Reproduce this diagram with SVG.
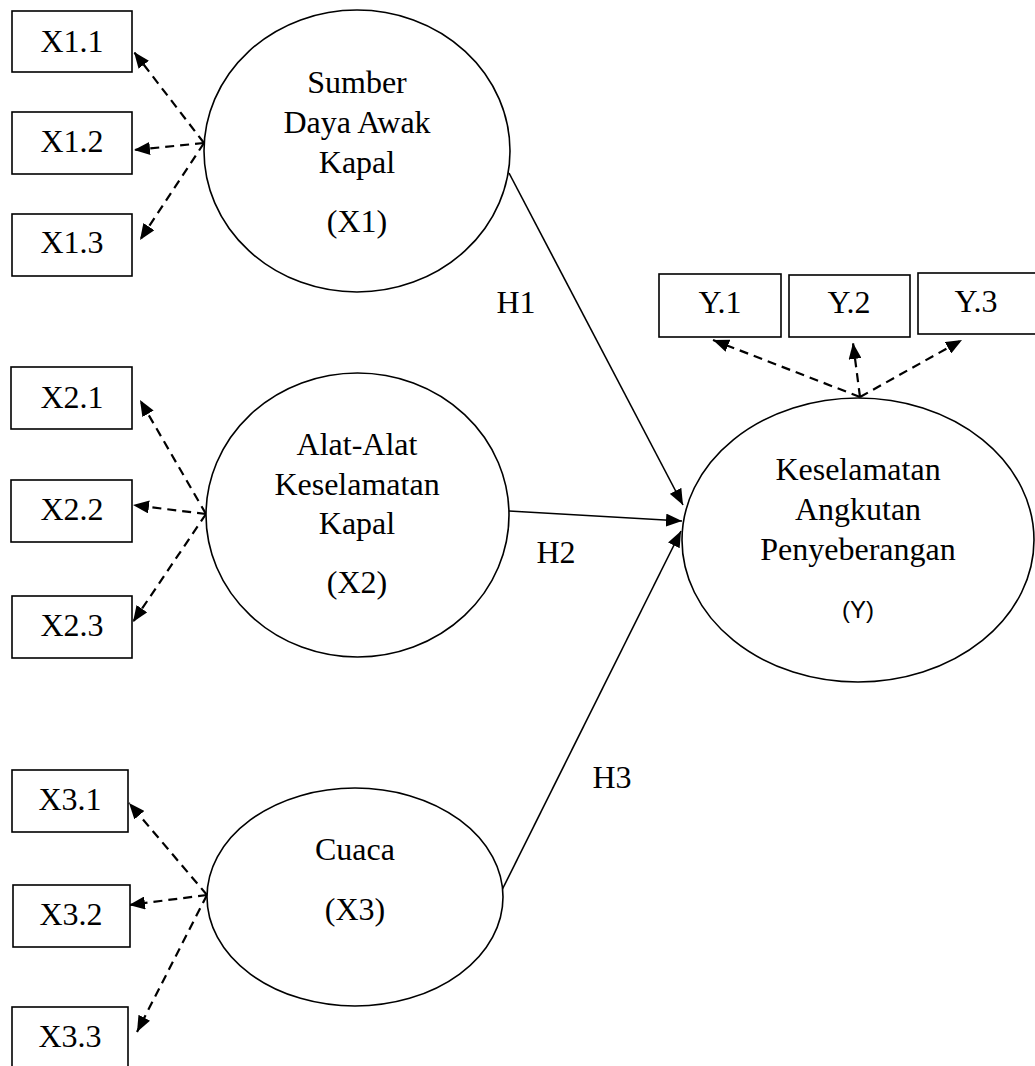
<svg xmlns="http://www.w3.org/2000/svg" width="1035" height="1066" viewBox="0 0 1035 1066">
<defs>
<style>
.box{fill:#fff;stroke:#000;stroke-width:1.6}
.ell{fill:#fff;stroke:#000;stroke-width:1.6}
.t{font-family:"Liberation Serif","Times New Roman",serif;font-size:32px;fill:#000;text-anchor:middle}
.s{font-family:"Liberation Sans",Arial,sans-serif;font-size:24px;fill:#000;text-anchor:middle}
.solid{fill:none;stroke:#000;stroke-width:1.6}
.dash{fill:none;stroke:#000;stroke-width:2.2;stroke-dasharray:9 6}
</style>
<marker id="ah" markerUnits="userSpaceOnUse" markerWidth="17" markerHeight="13" refX="16" refY="6.5" orient="auto">
<path d="M0,0 L16,6.5 L0,13 z" fill="#000"/>
</marker>
</defs>
<rect width="1035" height="1066" fill="#fff"/>

<g id="connectors">
<line class="solid" x1="509" y1="173" x2="683" y2="505" marker-end="url(#ah)"/>
<line class="solid" x1="509" y1="511" x2="682" y2="521" marker-end="url(#ah)"/>
<line class="solid" x1="502" y1="890" x2="681" y2="531" marker-end="url(#ah)"/>
<line class="dash" x1="204" y1="143" x2="134" y2="52" marker-end="url(#ah)"/>
<line class="dash" x1="204" y1="143" x2="134" y2="150" marker-end="url(#ah)"/>
<line class="dash" x1="204" y1="143" x2="140" y2="240" marker-end="url(#ah)"/>
<line class="dash" x1="206" y1="514" x2="140" y2="400" marker-end="url(#ah)"/>
<line class="dash" x1="206" y1="514" x2="133" y2="505" marker-end="url(#ah)"/>
<line class="dash" x1="206" y1="514" x2="133" y2="622" marker-end="url(#ah)"/>
<line class="dash" x1="207" y1="895" x2="129" y2="803" marker-end="url(#ah)"/>
<line class="dash" x1="207" y1="895" x2="129" y2="905" marker-end="url(#ah)"/>
<line class="dash" x1="207" y1="895" x2="137" y2="1032" marker-end="url(#ah)"/>
<line class="dash" x1="860" y1="397" x2="713" y2="340" marker-end="url(#ah)"/>
<line class="dash" x1="860" y1="397" x2="853" y2="343" marker-end="url(#ah)"/>
<line class="dash" x1="860" y1="397" x2="962" y2="340" marker-end="url(#ah)"/>
<text class="t" x="516" y="313">H1</text>
<text class="t" x="556" y="563">H2</text>
<text class="t" x="612" y="788">H3</text>
</g>

<g id="X1">
<ellipse class="ell" cx="357" cy="151" rx="153" ry="141"/>
<text class="t" x="357" y="93">Sumber</text>
<text class="t" x="357" y="133">Daya Awak</text>
<text class="t" x="357" y="173">Kapal</text>
<text class="t" x="357" y="232">(X1)</text>
</g>
<g id="X2">
<ellipse class="ell" cx="357.5" cy="515" rx="151.5" ry="142"/>
<text class="t" x="357" y="455">Alat-Alat</text>
<text class="t" x="357" y="495">Keselamatan</text>
<text class="t" x="357" y="534">Kapal</text>
<text class="t" x="357" y="593">(X2)</text>
</g>
<g id="X3">
<ellipse class="ell" cx="355" cy="897" rx="148" ry="109"/>
<text class="t" x="355" y="860">Cuaca</text>
<text class="t" x="355" y="920">(X3)</text>
</g>
<g id="Y">
<ellipse class="ell" cx="858" cy="540" rx="176" ry="142"/>
<text class="t" x="858" y="480">Keselamatan</text>
<text class="t" x="858" y="520">Angkutan</text>
<text class="t" x="858" y="560">Penyeberangan</text>
<text class="s" x="858" y="618">(Y)</text>
</g>

<g id="X1.1"><rect class="box" x="12" y="11" width="120" height="61"/><text class="t" x="72" y="52">X1.1</text></g>
<g id="X1.2"><rect class="box" x="12" y="112" width="120" height="62"/><text class="t" x="72" y="152">X1.2</text></g>
<g id="X1.3"><rect class="box" x="12" y="214" width="120" height="62"/><text class="t" x="72" y="253">X1.3</text></g>
<g id="X2.1"><rect class="box" x="11" y="367" width="121" height="62"/><text class="t" x="72" y="408">X2.1</text></g>
<g id="X2.2"><rect class="box" x="11" y="480" width="121" height="62"/><text class="t" x="72" y="520">X2.2</text></g>
<g id="X2.3"><rect class="box" x="12" y="596" width="120" height="62"/><text class="t" x="72" y="636">X2.3</text></g>
<g id="X3.1"><rect class="box" x="12" y="770" width="116" height="62"/><text class="t" x="70" y="810">X3.1</text></g>
<g id="X3.2"><rect class="box" x="13" y="885" width="117" height="62"/><text class="t" x="71" y="925">X3.2</text></g>
<g id="X3.3"><rect class="box" x="12" y="1007" width="116" height="62"/><text class="t" x="70" y="1047">X3.3</text></g>
<g id="Y.1"><rect class="box" x="659" y="274" width="122" height="63"/><text class="t" x="720" y="313">Y.1</text></g>
<g id="Y.2"><rect class="box" x="789" y="275" width="121" height="62"/><text class="t" x="849" y="313">Y.2</text></g>
<g id="Y.3"><rect class="box" x="918" y="273" width="125" height="61"/><text class="t" x="976" y="312">Y.3</text></g>
</svg>
